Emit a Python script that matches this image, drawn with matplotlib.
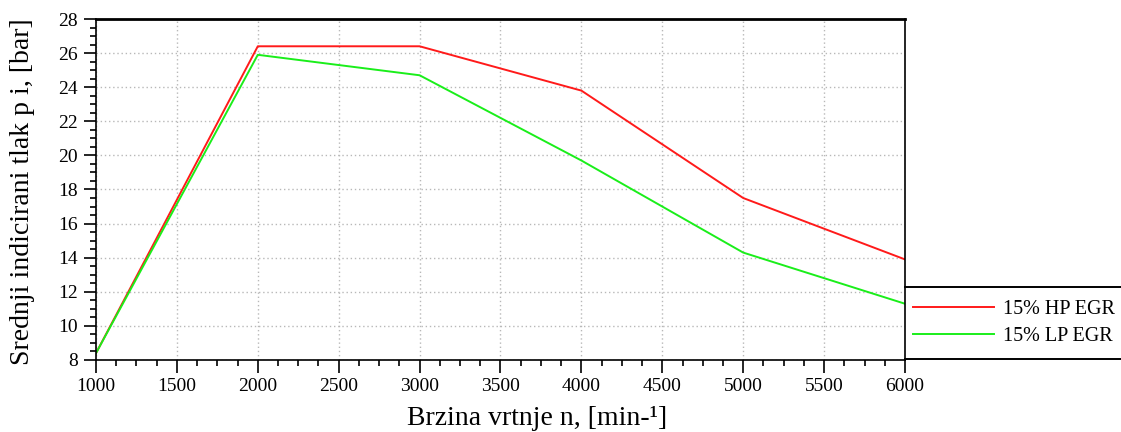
import matplotlib
matplotlib.use("Agg")
import matplotlib.pyplot as plt
from matplotlib.ticker import MultipleLocator
from matplotlib.lines import Line2D

# engine speed [min-1]
speed = [1000, 2000, 3000, 4000, 5000, 6000]
# mean indicated pressure [bar]
hp_egr = [8.4, 26.4, 26.4, 23.8, 17.5, 13.9]
lp_egr = [8.4, 25.9, 24.7, 19.7, 14.3, 11.3]
labels = ["15% HP EGR", "15% LP EGR"]

plt.rcParams['font.family'] = ['Liberation Serif', 'DejaVu Serif']

fig = plt.figure(figsize=(11.21, 4.32), dpi=100)
W, H = 1121, 432
ax = fig.add_axes([96 / W, 72 / H, (905 - 96) / W, (360 - 19) / H])

ax.plot(speed, hp_egr, color='#ff1a1a', lw=1.4, label=labels[0])
ax.plot(speed, lp_egr, color='#1aee1a', lw=1.4, label=labels[1])

ax.set_xlim(1000, 6000)
ax.set_ylim(8, 28)
ax.xaxis.set_major_locator(MultipleLocator(500))
ax.xaxis.set_minor_locator(MultipleLocator(125))
ax.yaxis.set_major_locator(MultipleLocator(2))
ax.yaxis.set_minor_locator(MultipleLocator(0.5))

ax.grid(True, which='major', color='#b8b8b8', linestyle=(0, (1, 2)), linewidth=1)
ax.tick_params(which='major', length=9, width=1.2, labelsize=14, pad=4)
ax.tick_params(which='minor', length=4.5, width=1.2)

for s in ax.spines.values():
    s.set_linewidth(1.2)
ax.spines['top'].set_linewidth(2)

ax.set_xlabel("Brzina vrtnje n, [min-¹]", fontsize=20)
ax.set_ylabel("Srednji indicirani tlak p i, [bar]", fontsize=20)
ax.xaxis.set_label_coords((537 - 96) / 809, (360 - 406) / 341)
ax.yaxis.set_label_coords((35 - 96) / 809, (360 - 192) / 341)

# legend box to the right of the plot
for yy in (287, 359):
    fig.add_artist(Line2D([905 / W, 1.0], [(H - yy) / H] * 2,
                          transform=fig.transFigure, color='black', lw=1.4))
fig.legend(loc='center left', bbox_to_anchor=(913 / W, (H - 323) / H),
           frameon=False, fontsize=14.5, handlelength=4.0, handletextpad=0.45,
           labelspacing=0.35, borderpad=0, borderaxespad=0)

fig.savefig("out.png", dpi=100)
